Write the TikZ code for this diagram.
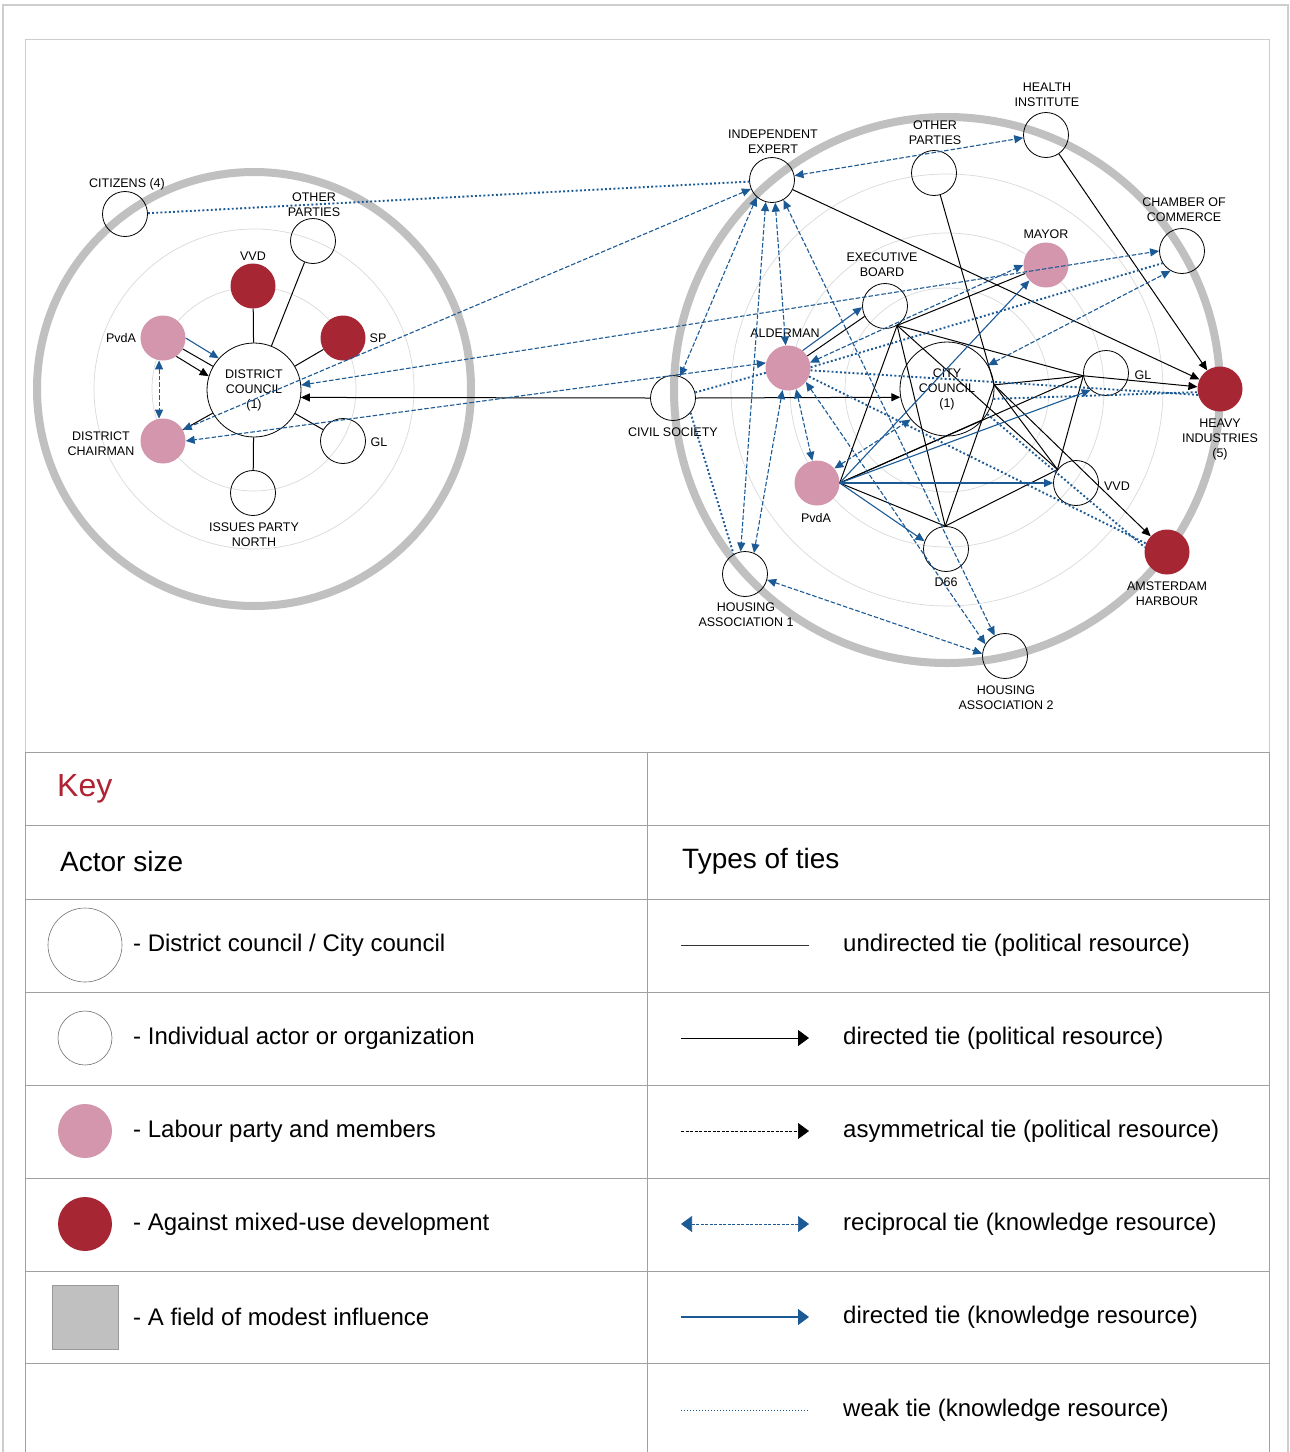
\documentclass[tikz,border=0pt]{standalone}
\usepackage{fontspec}
\setmainfont{Liberation Sans}
\usetikzlibrary{arrows.meta}
\definecolor{netblue}{RGB}{28,90,150}
\definecolor{labpink}{RGB}{211,150,172}
\definecolor{antired}{RGB}{166,38,51}
\definecolor{ringgray}{RGB}{192,192,192}
\definecolor{faintring}{RGB}{218,218,218}
\definecolor{keyred}{RGB}{175,35,50}
\definecolor{framegray}{RGB}{160,160,160}
\definecolor{lightframe}{RGB}{205,205,205}
\newcommand\netlab{\fontsize{12.5}{15}\selectfont}
\newcommand\keyrow{\fontsize{24}{28}\selectfont}
\newcommand\keyhd{\fontsize{28}{32}\selectfont}
\newcommand\keytitle{\fontsize{32}{36}\selectfont}
\begin{document}
\begin{tikzpicture}[x=1pt,y=-1pt,
  actor/.style={circle,draw=black,line width=0.8pt,minimum size=45pt,inner sep=0pt},
  council/.style={circle,draw=black,line width=0.8pt,minimum size=94pt,inner sep=0pt,align=center,font=\netlab},
  pinkactor/.style={circle,fill=labpink,minimum size=45pt,inner sep=0pt},
  redactor/.style={circle,fill=antired,minimum size=45pt,inner sep=0pt},
  lbl/.style={align=center,font=\netlab,inner sep=0pt},
  bigring/.style={draw=ringgray,line width=8pt},
  smallring/.style={draw=faintring,line width=0.7pt},
  pol/.style={draw=black,line width=1pt},
  polarr/.style={pol,-{Triangle[length=9pt,width=8pt]}},
  recip/.style={draw=netblue,line width=1.1pt,dash pattern=on 4.5pt off 2pt,{Triangle[length=9pt,width=8pt]}-{Triangle[length=9pt,width=8pt]}},
  kdir/.style={draw=netblue,line width=1.1pt,-{Triangle[length=9pt,width=8pt]}},
  weak/.style={draw=netblue,line width=1.9pt,dash pattern=on 1.9pt off 2.3pt},
  keytxt/.style={anchor=west,font=\keyrow,inner sep=0pt},
  keyhead/.style={anchor=west,font=\keyhd,inner sep=0pt},
  bigtip/.style={-{Triangle[length=11pt,width=16pt]}}
]
\useasboundingbox (0,0) rectangle (1290,1452);
\fill[white] (0,0) rectangle (1290,1452);

% frames
\draw[lightframe,line width=1.5pt] (3,1452) -- (3,5) -- (1288,5) -- (1288,1452);
\draw[lightframe,line width=1pt] (25,1452) -- (25,39) -- (1269,39) -- (1269,1452);

% rings
\draw[bigring] (254,389) circle[radius=217];
\draw[smallring] (254,389) circle[radius=102];
\draw[smallring] (254,389) circle[radius=160];
\draw[bigring] (947,390) circle[radius=273];
\draw[smallring] (947,390) circle[radius=102];
\draw[smallring] (947,390) circle[radius=157];
\draw[smallring] (947,390) circle[radius=216];

% ---------- left network nodes
\node[council] (DC) at (254,390) {DISTRICT\\COUNCIL\\(1)};
\node[actor] (CIT) at (125,214) {};
\node[actor] (OPL) at (313,241) {};
\node[redactor] (VVDL) at (253,286) {};
\node[redactor] (SPL) at (343,338) {};
\node[pinkactor] (PVL) at (163,338) {};
\node[pinkactor] (CHR) at (163,441) {};
\node[actor] (GLL) at (343,441) {};
\node[actor] (IPN) at (253,493) {};

\node[lbl] (lCIT) at (127,184) {CITIZENS (4)};
\node[lbl] (lOPL) at (314,205) {OTHER\\PARTIES};
\node[lbl] (lVVDL) at (253,256) {VVD};
\node[lbl] (lSPL) at (378,338) {SP};
\node[lbl] (lPVL) at (121,338) {PvdA};
\node[lbl] (lCHR) at (101,444) {DISTRICT\\CHAIRMAN};
\node[lbl] (lGLL) at (379,442) {GL};
\node[lbl] (lIPN) at (254,535) {ISSUES PARTY\\NORTH};

% ---------- right network nodes
\node[council] (CC) at (947,389) {CITY\\COUNCIL\\(1)};
\node[actor] (IE) at (772,180) {};
\node[actor] (OPR) at (934,173) {};
\node[actor] (HEA) at (1046,135) {};
\node[actor] (CHAM) at (1182,251) {};
\node[pinkactor] (MAY) at (1046,265) {};
\node[actor] (EB) at (885,306) {};
\node[pinkactor] (ALD) at (788,368) {};
\node[actor] (GLR) at (1106,373) {};
\node[redactor] (HI) at (1220,389) {};
\node[actor] (VVDR) at (1076,483) {};
\node[actor] (D66) at (946,549) {};
\node[redactor] (AH) at (1167,552) {};
\node[actor] (HA2) at (1005,656) {};
\node[pinkactor] (PVR) at (817,483) {};
\node[actor] (CS) at (673,398) {};
\node[actor] (HA1) at (745,574) {};

\node[lbl] (lIE) at (773,142) {INDEPENDENT\\EXPERT};
\node[lbl] (lOPR) at (935,133) {OTHER\\PARTIES};
\node[lbl] (lHEA) at (1047,95) {HEALTH\\INSTITUTE};
\node[lbl] (lCHAM) at (1184,210) {CHAMBER OF\\COMMERCE};
\node[lbl] (lMAY) at (1046,234) {MAYOR};
\node[lbl] (lEB) at (882,265) {EXECUTIVE\\BOARD};
\node[lbl] (lALD) at (785,333) {ALDERMAN};
\node[lbl] (lGLR) at (1143,375) {GL};
\node[lbl] (lHI) at (1220,439) {HEAVY\\INDUSTRIES\\(5)};
\node[lbl] (lVVDR) at (1117,486) {VVD};
\node[lbl] (lD66) at (946,582) {D66};
\node[lbl] (lAH) at (1167,594) {AMSTERDAM\\HARBOUR};
\node[lbl] (lHA2) at (1006,698) {HOUSING\\ASSOCIATION 2};
\node[lbl] (lPVR) at (816,518) {PvdA};
\node[lbl] (lCS) at (673,432) {CIVIL SOCIETY};
\node[lbl] (lHA1) at (746,615) {HOUSING\\ASSOCIATION 1};

% hub points
\coordinate (Eh) at (EB.-58);
\coordinate (Ch) at (CC.5);
\coordinate (Cl) at (CC.-40);
\coordinate (Gh) at (GLR.187);
\coordinate (Vh) at (VVDR.144);
\coordinate (Dh) at (D66.92);
\coordinate (Ph) at (PVR.0);

% ---------- left edges
\draw[pol] (VVDL) -- (DC);
\draw[pol] (OPL) -- (DC);
\draw[pol] (SPL) -- (DC);
\draw[pol] (GLL) -- (DC);
\draw[pol] (IPN) -- (DC);
\draw[pol] (CHR) -- (DC);
\draw[pol] (PVL.-29) -- (DC.150);
\draw[polarr] (PVL.-54) -- (DC.163);
\draw[kdir] (PVL.0) -- (DC.138);
\draw[recip] (PVL.-100) -- (CHR.100);

% ---------- black (political) edges right
\draw[polarr] (CS.180) -- (DC.-9);
\draw[polarr] (CS.0) -- (CC.190);
\draw[polarr] (IE) -- (HI);
\draw[polarr] (HEA) -- (HI);
\draw[polarr] (Gh) -- (HI);
\draw[polarr] (Ch) -- (AH);
\draw[pol] (OPR) -- (Ch);
\draw[pol] (ALD.32) -- (EB.207);
\draw[pol] (Eh) -- (MAY);
\draw[pol] (Eh) -- (Ph);
\draw[pol] (Eh) -- (Dh);
\draw[pol] (Eh) -- (Vh);
\draw[pol] (Eh) -- (Gh);
\draw[pol] (Ch) -- (Gh);
\draw[pol] (Ch) -- (Vh);
\draw[pol] (Ch) -- (Dh);
\draw[pol] (Cl) -- (Ph);
\draw[pol] (Gh) -- (Vh);
\draw[pol] (Gh) -- (Ph);
\draw[pol] (Dh) -- (Vh);
\draw[pol] (Dh) -- (Ph);

% ---------- knowledge edges
\draw[weak] (CIT.2) -- (IE.184);
\draw[recip] (IE.203) -- (CHR.30);
\draw[recip] (ALD.167) -- (CHR.0);
\draw[recip] (DC.6) -- (CHAM.180);
\draw[recip] (IE.11) -- (HEA.187);
\draw[recip] (IE.-132) -- (CS.72);
\draw[recip] (IE.-106) -- (HA1.101);
\draw[recip] (IE.-82) -- (ALD.96);
\draw[recip] (IE.-60) -- (HA2.117);
\draw[recip] (ALD.-104) -- (HA1.67);
\draw[recip] (ALD.-69) -- (PVR.102);
\draw[recip] (ALD.14) -- (MAY.180);
\draw[recip] (ALD.-38) -- (HA2.149);
\draw[recip] (HA1.-15) -- (HA2.174);
\draw[recip] (CC.30) -- (CHAM.-120);
\draw[recip] (PVR.40) -- (CC.220);
\draw[kdir] (ALD.50) -- (EB.183);
\draw[kdir] (Ph) -- (VVDR.180);
\draw[kdir] (Ph) -- (GLR.228);
\draw[kdir] (Ph) -- (MAY.223);
\draw[kdir] (Ph) -- (D66.160);
\draw[weak] (ALD.2) -- (CHAM.212);
\draw[weak] (ALD.-6) -- (HI.195);
\draw[weak] (ALD.-22) -- (AH.158);
\draw[weak] (CS.14) -- (ALD.192);
\draw[weak] (CS.-40) -- (HA1.120);
\draw[weak] (CC.-12) -- (HI.188);
\draw[weak] (CC.-32) -- (AH.168);

% ---------- key table
\foreach \yy in {752,825,899,992,1085,1178,1271,1363}
  \draw[framegray,line width=0.9pt] (25,\yy) -- (1269,\yy);
\draw[framegray,line width=0.9pt] (647,752) -- (647,1452);
\draw[framegray,line width=0.9pt] (25,752) -- (25,1452);
\draw[framegray,line width=0.9pt] (1269,752) -- (1269,1452);

\node[anchor=west,font=\keytitle,text=keyred,inner sep=0pt] (kKey) at (57,789) {Key};
\node[keyhead] (kActor) at (60,861) {Actor size};
\node[keyhead] (kTies) at (682,861) {Types of ties};

\node[circle,draw=black!55,line width=0.6pt,minimum size=74pt,inner sep=0pt] (lgA) at (85,945) {};
\node[circle,draw=black!55,line width=0.6pt,minimum size=54pt,inner sep=0pt] (lgB) at (85,1038) {};
\node[circle,fill=labpink,minimum size=54pt,inner sep=0pt] (lgC) at (85,1131) {};
\node[circle,fill=antired,minimum size=54pt,inner sep=0pt] (lgD) at (85,1224) {};
\node[draw=black!40,fill=ringgray,minimum width=66pt,minimum height=64pt,inner sep=0pt] (lgE) at (85,1317) {};

\node[keytxt] (tA) at (133,945) {- District council / City council};
\node[keytxt] (tB) at (133,1038) {- Individual actor or organization};
\node[keytxt] (tC) at (133,1131) {- Labour party and members};
\node[keytxt] (tD) at (133,1224) {- Against mixed-use development};
\node[keytxt] (tE) at (133,1317) {- A field of modest influence};

\coordinate (u1a) at (681,945);  \coordinate (u1b) at (809,945);
\coordinate (u2a) at (681,1038); \coordinate (u2b) at (809,1038);
\coordinate (u3a) at (681,1131); \coordinate (u3b) at (809,1131);
\coordinate (u4a) at (681,1224); \coordinate (u4b) at (809,1224);
\coordinate (u5a) at (681,1317); \coordinate (u5b) at (809,1317);
\coordinate (u6a) at (681,1410); \coordinate (u6b) at (809,1410);
\draw[black!80,line width=0.6pt] (u1a) -- (u1b);
\draw[black,line width=1pt,bigtip] (u2a) -- (u2b);
\draw[black,line width=0.6pt,dash pattern=on 3pt off 1.5pt,bigtip] (u3a) -- (u3b);
\draw[netblue,line width=0.6pt,dash pattern=on 3pt off 1.5pt,{Triangle[length=11pt,width=16pt]}-{Triangle[length=11pt,width=16pt]}] (u4a) -- (u4b);
\draw[netblue,line width=1.2pt,bigtip] (u5a) -- (u5b);
\draw[netblue,line width=0.9pt,dash pattern=on 1pt off 2pt] (u6a) -- (u6b);

\node[keytxt] (rA) at (843,945) {undirected tie (political resource)};
\node[keytxt] (rB) at (843,1038) {directed tie (political resource)};
\node[keytxt] (rC) at (843,1131) {asymmetrical tie (political resource)};
\node[keytxt] (rD) at (843,1224) {reciprocal tie (knowledge resource)};
\node[keytxt] (rE) at (843,1317) {directed tie (knowledge resource)};
\node[keytxt] (rF) at (843,1410) {weak tie (knowledge resource)};
\end{tikzpicture}
\end{document}
